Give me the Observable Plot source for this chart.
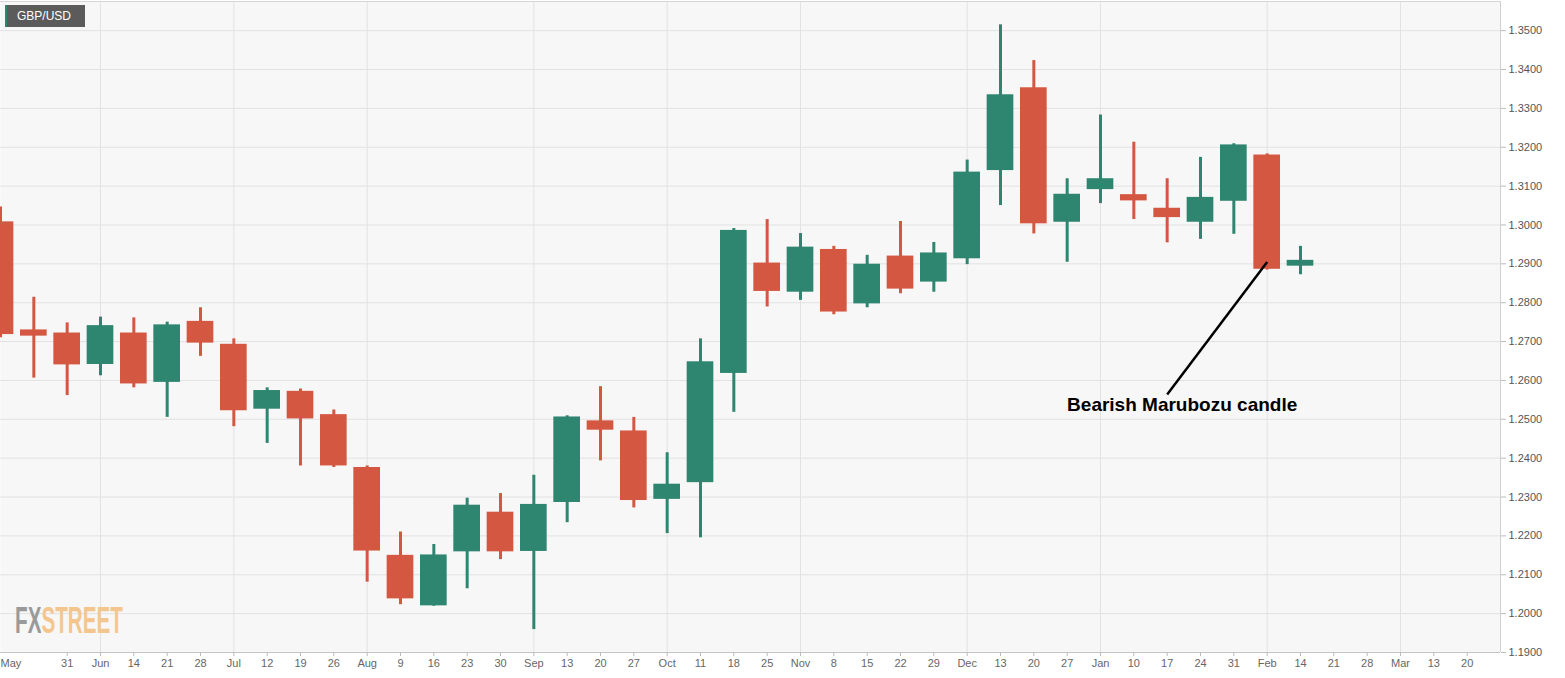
<!DOCTYPE html>
<html>
<head>
<meta charset="utf-8">
<script src="https://cdn.jsdelivr.net/npm/d3@7"></script>
<script src="https://cdn.jsdelivr.net/npm/@observablehq/plot@0.6"></script>
<style>
  body { margin: 0; background: #fff; font-family: "Liberation Sans", Arial, sans-serif; }
  #grafico { position: relative; width: 1565px; height: 678px; }
  #par {
    position: absolute; left: 5px; top: 5px; width: 80px; height: 22px; z-index: 2;
    background: #5b5b5b; border-left: 2px solid #2e8570;
    color: #fff; font-size: 12px; line-height: 22px; padding-left: 10px; box-sizing: border-box;
  }
</style>
</head>
<body>
<div id="grafico">
  <div id="par">GBP/USD</div>
</div>
<script>
// velas semanales GBP/USD (indice = semana)
let opens  = [1.3008, 1.2730, 1.2722, 1.2641, 1.2722, 1.2595, 1.2752, 1.2693, 1.2526, 1.2572,
              1.2512, 1.2376, 1.2150, 1.2020, 1.2159, 1.2261, 1.2160, 1.2286, 1.2496, 1.2470,
              1.2294, 1.2337, 1.2618, 1.2902, 1.2827, 1.2937, 1.2797, 1.2920, 1.2853, 1.2913,
              1.3140, 1.3353, 1.3007, 1.3091, 1.3078, 1.3043, 1.3007, 1.3061, 1.3180, 1.2894];
let highs  = [1.3046, 1.2814, 1.2748, 1.2763, 1.2761, 1.2750, 1.2787, 1.2707, 1.2581, 1.2578,
              1.2524, 1.2380, 1.2210, 1.2178, 1.2297, 1.2309, 1.2356, 1.2509, 1.2584, 1.2505,
              1.2414, 1.2707, 1.2991, 1.3014, 1.2978, 1.2945, 1.2922, 1.3009, 1.2955, 1.3167,
              1.3515, 1.3423, 1.3119, 1.3283, 1.3213, 1.3119, 1.3174, 1.3209, 1.3183, 1.2945];
let lows   = [1.2710, 1.2606, 1.2561, 1.2612, 1.2581, 1.2505, 1.2662, 1.2481, 1.2438, 1.2380,
              1.2376, 1.2081, 1.2023, 1.2019, 1.2064, 1.2139, 1.1959, 1.2234, 1.2393, 1.2272,
              1.2206, 1.2195, 1.2518, 1.2789, 1.2806, 1.2769, 1.2787, 1.2823, 1.2827, 1.2898,
              1.3050, 1.2977, 1.2904, 1.3055, 1.3014, 1.2954, 1.2963, 1.2976, 1.2884, 1.2872];
let closes = [1.2718, 1.2714, 1.2640, 1.2741, 1.2591, 1.2743, 1.2696, 1.2522, 1.2574, 1.2501,
              1.2380, 1.2161, 1.2038, 1.2151, 1.2279, 1.2159, 1.2281, 1.2506, 1.2472, 1.2291,
              1.2333, 1.2648, 1.2986, 1.2829, 1.2943, 1.2776, 1.2899, 1.2835, 1.2928, 1.3136,
              1.3335, 1.3003, 1.3079, 1.3119, 1.3062, 1.3019, 1.3071, 1.3206, 1.2886, 1.2909];

// etiquetas del eje x (indice de semana -> texto)
let tickIdx = [2, 3, 4, 5, 6, 7, 8, 9, 10, 11, 12, 13, 14, 15, 16, 17, 18, 19, 20, 21, 22,
               23, 24, 25, 26, 27, 28, 29, 30, 31, 32, 33, 34, 35, 36, 37, 38, 39, 40, 41, 42, 43, 44];
let tickTxt = ["31", "Jun", "14", "21", "28", "Jul", "12", "19", "26", "Aug", "9", "16", "23", "30",
               "Sep", "13", "20", "27", "Oct", "11", "18", "25", "Nov", "8", "15", "22", "29",
               "Dec", "13", "20", "27", "Jan", "10", "17", "24", "31", "Feb", "14", "21", "28",
               "Mar", "13", "20"];
let monthIdx = [3, 7, 11, 16, 20, 24, 29, 33, 38, 42];
let priceTicks = d3.range(119, 136).map(v => v / 100);

let nota = {x1: 38, y1: 1.2905, x2: 35.0, y2: 1.2564, tx: 35.45, ty: 1.2536, text: "Bearish Marubozu candle"};

let velas = opens.map((o, i) => ({i: i, open: o, high: highs[i], low: lows[i], close: closes[i]}));
const rojo = "#d45742", verde = "#2e8570";
let color = d => d.close >= d.open ? verde : rojo;

let chart = Plot.plot({
  width: 1565,
  height: 678,
  marginLeft: 0,
  marginRight: 65,
  marginTop: 1,
  marginBottom: 26,
  x: {domain: [0, 45]},
  y: {domain: [1.19, 1.3575]},
  style: {background: "white", fontFamily: "'Liberation Sans', Arial, sans-serif", fontSize: "11px", color: "#555"},
  marks: [
    Plot.frame({fill: "#f7f7f7", stroke: null}),
    Plot.gridY(priceTicks, {stroke: "#e2e2e2", strokeOpacity: 1}),
    Plot.gridX(monthIdx, {stroke: "#e2e2e2", strokeOpacity: 1}),
    Plot.ruleY([1.3575], {stroke: "#d6d6d6"}),
    Plot.ruleX([45], {stroke: "#d0d0d0"}),
    Plot.ruleY([1.19], {stroke: "#c4c4c4"}),

    // mechas
    Plot.ruleX(velas, {x: "i", y1: "low", y2: "high", stroke: color, strokeWidth: 3, clip: true}),
    // cuerpos
    Plot.rect(velas, {
      x1: d => d.i - 0.4, x2: d => d.i + 0.4,
      y1: "open", y2: "close", fill: color, clip: true
    }),

    Plot.axisY(priceTicks, {anchor: "right", tickFormat: d3.format(".4f"), tickSize: 5, tickPadding: 3, stroke: "#bbb", fill: "#555", label: null}),
    Plot.axisX(tickIdx, {tickFormat: (d, k) => tickTxt[k], tickSize: 4, tickPadding: 3, stroke: "#bbb", fill: "#666", label: null}),
    Plot.axisX([0], {tickFormat: () => "May", tickSize: 0, tickPadding: 7, textAnchor: "start", fill: "#666", label: null}),

    // anotacion
    Plot.link([nota], {x1: "x1", y1: "y1", x2: "x2", y2: "y2", stroke: "black", strokeWidth: 2.5}),
    Plot.text([nota], {x: "tx", y: "ty", text: "text", fontSize: 19, fontWeight: "bold", fill: "black"})
  ]
});

// logo FXSTREET abajo a la izquierda: un solo texto, FX gris y STREET naranja con un degradado duro
let svg = d3.select(chart);
let grad = svg.append("defs").append("linearGradient")
  .attr("id", "fxgrad").attr("gradientUnits", "userSpaceOnUse")
  .attr("x1", 15).attr("x2", 123).attr("y1", 0).attr("y2", 0);
grad.append("stop").attr("offset", 0.245).attr("stop-color", "#9a9a9a");
grad.append("stop").attr("offset", 0.245).attr("stop-color", "#f3c690");
svg.append("text")
  .attr("x", 15).attr("y", 633)
  .attr("text-anchor", "start")
  .attr("textLength", 108).attr("lengthAdjust", "spacingAndGlyphs")
  .attr("font-size", 37).attr("font-weight", "bold")
  .attr("font-family", "'Liberation Sans Narrow', 'Liberation Sans', sans-serif")
  .attr("fill", "url(#fxgrad)")
  .text("FXSTREET");

d3.select('#grafico').append(() => chart);
</script>
</body>
</html>
